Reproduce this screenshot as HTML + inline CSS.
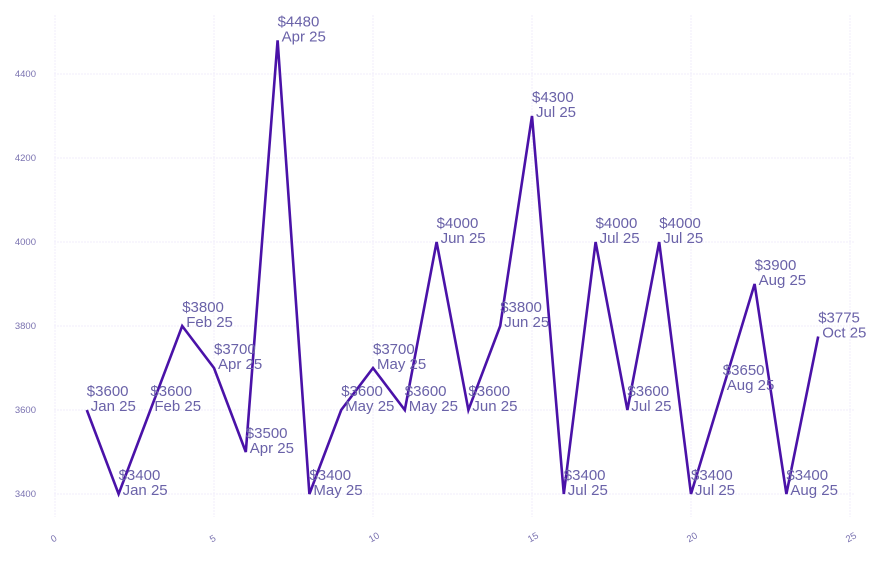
<!DOCTYPE html>
<html><head><style>body{margin:0;background:#fff}</style></head><body>
<svg width="880" height="558" xmlns="http://www.w3.org/2000/svg" font-family="Liberation Sans, sans-serif">
<g id="grid" stroke="#f0eefb" stroke-width="1" stroke-dasharray="2,1"></g>
<g id="yt" fill="#7a72b0" font-size="9.5" text-anchor="end"></g>
<g id="xt" fill="#7a72b0" font-size="9.5"></g>
<polyline id="ln" fill="none" stroke="#4a12a8" stroke-width="2.6" stroke-linejoin="miter"/>
<g id="lb" fill="#6a62a8" font-size="15"></g>
</svg>
<script>
const X=v=>55+v*31.8, Y=v=>494-(v-3400)*0.42;
const d=[3600,3400,3600,3800,3700,3500,4480,3400,3600,3700,3600,4000,3600,3800,4300,3400,4000,3600,4000,3400,3650,3900,3400,3775];
const m=["Jan","Jan","Feb","Feb","Apr","Apr","Apr","May","May","May","May","Jun","Jun","Jun","Jul","Jul","Jul","Jul","Jul","Jul","Aug","Aug","Aug","Oct"];
const ns="http://www.w3.org/2000/svg";
function el(p,t,a,txt){const e=document.createElementNS(ns,t);for(const k in a)e.setAttribute(k,a[k]);if(txt)e.textContent=txt;document.getElementById(p).appendChild(e);}
for(let v=3400;v<=4400;v+=200){el("grid","line",{x1:54,x2:855,y1:Y(v),y2:Y(v)});el("yt","text",{x:36,y:Y(v)+3},String(v));}
for(let v=0;v<=25;v+=5){el("grid","line",{x1:X(v),x2:X(v),y1:15,y2:517});el("xt","text",{x:X(v)-4,y:541,transform:`rotate(-30 ${X(v)} 538)`},String(v));}
document.getElementById("ln").setAttribute("points",d.map((v,i)=>X(i+1)+","+Y(v)).join(" "));
d.forEach((v,i)=>{const x=X(i+1),y=Y(v);el("lb","text",{x:x,y:y-14},"$"+v);el("lb","text",{x:x+4,y:y+1},m[i]+" 25");});
</script>
</body></html>
